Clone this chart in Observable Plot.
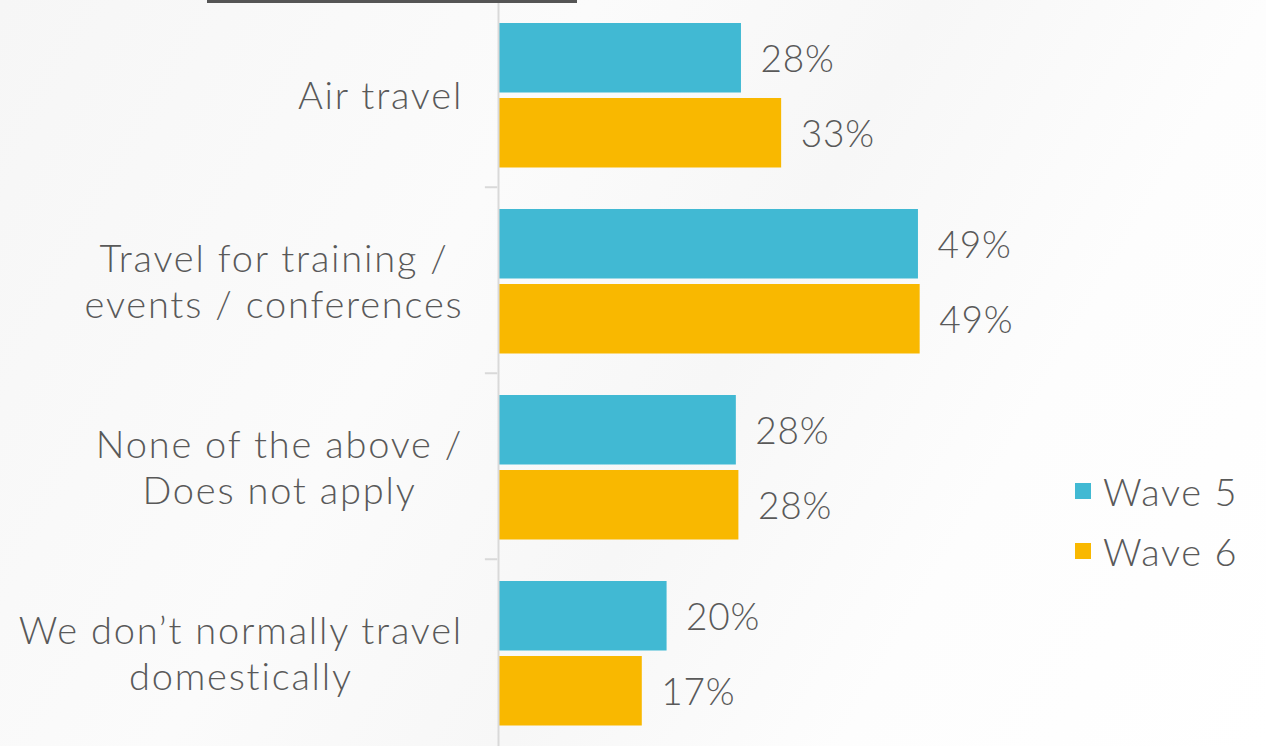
<!DOCTYPE html>
<html>
<head>
<meta charset="utf-8">
<script src="https://cdn.jsdelivr.net/npm/d3@7"></script>
<script src="https://cdn.jsdelivr.net/npm/@observablehq/plot@0.6"></script>
<style>
  html, body { margin: 0; padding: 0; }
  body {
    width: 1266px; height: 746px; overflow: hidden; position: relative;
    background: linear-gradient(120deg, #f6f6f6 0%, #fbfbfb 35%, #f7f7f7 55%, #fdfdfd 75%, #ffffff 100%);
    font-family: Lato, "Open Sans", sans-serif;
  }
  #chart { position: absolute; left: 0; top: 0; }
  #topline { position: absolute; left: 207px; top: 0; width: 370px; height: 3px; background: #555555; }
  #legend { position: absolute; left: 1075px; top: 461px; color: #595959; font-size: 38px; font-weight: 300; letter-spacing: 1.6px; font-family: Lato, "Open Sans", sans-serif; }
  #legend .item { display: flex; align-items: center; height: 60px; }
  #legend .sw { width: 16px; height: 16px; margin-right: 12px; }
</style>
</head>
<body>
<div id="chart"></div>
<div id="topline"></div>
<div id="legend"></div>
<script>
const categories = [
  "Air travel",
  "Travel for training /\nevents / conferences",
  "None of the above /\nDoes not apply",
  "We don’t normally travel\ndomestically"
];
const series = ["Wave 5", "Wave 6"];
const wave5 = [28.3, 49.0, 27.7, 19.6];
const wave6 = [33.0, 49.2, 28.0, 16.7];
const valueLabels5 = ["28%", "49%", "28%", "20%"];
const valueLabels6 = ["33%", "49%", "28%", "17%"];
const colors = ["#41B9D3", "#F9B800"];

const rows5 = categories.map((c, i) => ({category: c, wave: series[0], value: wave5[i], label: valueLabels5[i]}));
const rows6 = categories.map((c, i) => ({category: c, wave: series[1], value: wave6[i], label: valueLabels6[i]}));

const W = 1266, H = 746;
const left = 499;
const labelSize = 38;
const valueSize = 37;
const fontWeight = 300;
const labelSpacing = 1.8;
const valueSpacing = 0.8;
const fontFamily = "Lato, 'Open Sans', sans-serif";
const textColor = "#595959";
const band = H / categories.length;
const half = band / 2;

// measure widest line per category to center lines within a right-aligned block
const ctx = document.createElement("canvas").getContext("2d");
ctx.font = `${fontWeight} ${labelSize}px Lato`;
const labelMarks = categories.map(c => {
  const w = d3.max(c.split("\n"), s => ctx.measureText(s).width + labelSpacing * s.length);
  return Plot.text([c], {
    x: () => 0, y: d => d, text: d => d,
    textAnchor: "middle", dx: -(36 + w / 2),
    fontSize: labelSize, fontWeight, fill: textColor, lineHeight: 1.2
  });
});

const plot = Plot.plot({
  width: W, height: H,
  marginLeft: left, marginRight: 0, marginTop: 0, marginBottom: 0,
  style: {background: "transparent", fontFamily, color: textColor},
  x: {domain: [0, (W - left) / 8.55], axis: null},
  y: {domain: categories, padding: 0, axis: null},
  color: {domain: series, range: colors},
  marks: [
    Plot.barX(rows5, {x: "value", y: "category", fill: "wave", insetTop: 22, insetBottom: band - 92}),
    Plot.barX(rows6, {x: "value", y: "category", fill: "wave", insetTop: 97, insetBottom: band - 167}),
    Plot.ruleX([0], {stroke: "#d9d9d9", strokeWidth: 2, dx: -1}),
    Plot.ruleY(categories, {y: d => d, x1: -1.65, x2: -0.2, stroke: "#d9d9d9", strokeWidth: 2, dy: -half}),
    Plot.text(rows5, {x: "value", y: "category", text: "label", textAnchor: "start", dx: 19, dy: 59 - half, fontSize: valueSize, fontWeight, fill: textColor}),
    Plot.text(rows6, {x: "value", y: "category", text: "label", textAnchor: "start", dx: 19, dy: 134 - half, fontSize: valueSize, fontWeight, fill: textColor}),
    ...labelMarks
  ]
});
document.getElementById("chart").appendChild(plot);

// letter spacing to approximate the wide geometric face of the original
const textGroups = d3.select(plot).selectAll('g[aria-label="text"]');
textGroups.filter((d, i) => i < 2).attr("letter-spacing", valueSpacing);
textGroups.filter((d, i) => i >= 2).attr("letter-spacing", labelSpacing);

const color = plot.scale("color");
const legend = document.getElementById("legend");
color.domain.forEach((s, i) => {
  const item = document.createElement("div");
  item.className = "item";
  const sw = document.createElement("div");
  sw.className = "sw";
  sw.style.background = color.range[i];
  const t = document.createElement("span");
  t.textContent = s;
  item.appendChild(sw); item.appendChild(t);
  legend.appendChild(item);
});
</script>
</body>
</html>
